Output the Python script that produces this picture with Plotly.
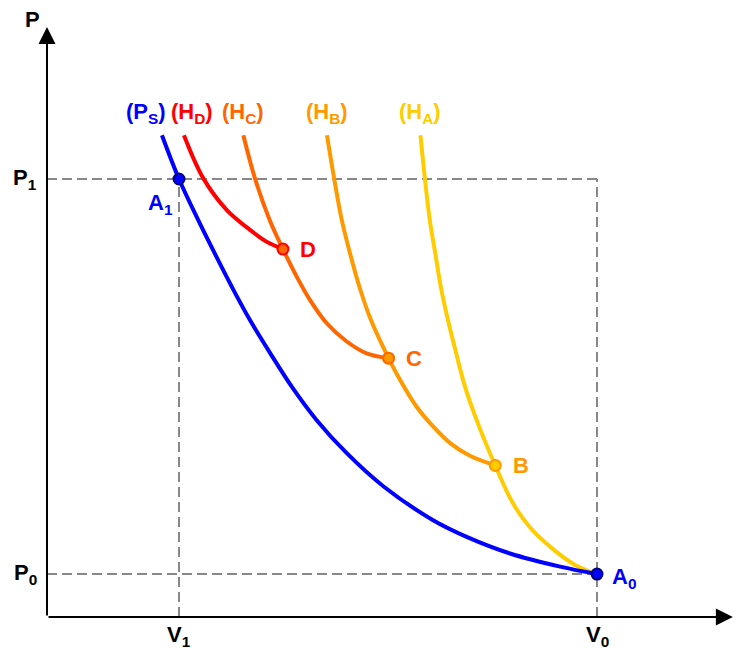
import plotly.graph_objects as go

# reference states (V, P)
V0, V1 = 10.0, 2.4
P0, P1 = 0.98, 10.0

# isentrope (Ps)
v_ps = [2.09, 2.40, 2.75, 3.05, 3.36, 3.69, 4.06, 4.45, 4.90, 5.45, 6.12, 7.02, 7.63, 8.42, 9.33, 10.0]
p_ps = [11.00, 10.0, 9.06, 8.30, 7.54, 6.78, 6.02, 5.26, 4.50, 3.74, 2.98, 2.21, 1.83, 1.45, 1.15, 0.98]

# Hugoniot curves, each listed from the top down to its pole
v_ha = [6.79, 6.87, 6.96, 7.06, 7.16, 7.29, 7.44, 7.60, 7.81, 8.15, 8.47, 8.78, 9.20, 9.60, 10.0]
p_ha = [11.00, 10.02, 9.06, 8.30, 7.54, 6.78, 6.02, 5.26, 4.50, 3.46, 2.60, 2.05, 1.55, 1.19, 0.98]

v_hb = [5.09, 5.22, 5.36, 5.51, 5.68, 5.89, 6.21, 6.42, 6.72, 7.02, 7.33, 7.69, 8.15]
p_hb = [11.00, 10.02, 9.06, 8.30, 7.54, 6.78, 5.91, 5.41, 4.80, 4.35, 3.97, 3.68, 3.46]

v_hc = [3.57, 3.78, 4.05, 4.29, 4.54, 4.78, 5.09, 5.45, 5.81, 6.21]
p_hc = [11.00, 10.02, 9.06, 8.40, 7.77, 7.24, 6.70, 6.29, 6.02, 5.91]

v_hd = [2.49, 2.84, 3.27, 3.69, 3.99, 4.29]
p_hd = [11.00, 10.02, 9.29, 8.84, 8.57, 8.40]

# marked states
pt_names = ["A<sub>1</sub>", "A<sub>0</sub>", "B", "C", "D"]
pt_v = [2.40, 10.0, 8.15, 6.21, 4.29]
pt_p = [10.0, 0.98, 3.46, 5.91, 8.40]
pt_fill = ["#0000FF", "#0000FF", "#FFCC00", "#FF9900", "#FF6600"]
pt_edge = ["#00007A", "#00007A", "#FF9900", "#FF6600", "#FF0000"]
pt_shift = [(-19, -25), (27, -4), (26, 0), (25, 0), (25, 0)]

FONT = "Arial, Liberation Sans, sans-serif"
FS = 22

curves = [
    ("(H<sub>A</sub>)", v_ha, p_ha, "#FFCC00", 0),
    ("(H<sub>B</sub>)", v_hb, p_hb, "#FF9900", 0),
    ("(H<sub>C</sub>)", v_hc, p_hc, "#FF6600", 0),
    ("(H<sub>D</sub>)", v_hd, p_hd, "#FF0000", 8),
    ("(P<sub>S</sub>)", v_ps, p_ps, "#0000FF", -16),
]

fig = go.Figure()
annotations = []

for name, vs, ps, color, dx in curves:
    fig.add_trace(go.Scatter(x=vs, y=ps, mode="lines",
                             line=dict(color=color, width=4, shape="spline"),
                             hoverinfo="skip"))
    annotations.append(dict(x=vs[0], y=ps[0], text="<b>" + name + "</b>",
                            showarrow=False, xshift=dx, yshift=22,
                            font=dict(family=FONT, size=FS, color=color)))

fig.add_trace(go.Scatter(x=pt_v, y=pt_p, mode="markers",
                         marker=dict(size=11, color=pt_fill,
                                     line=dict(color=pt_edge, width=2)),
                         hoverinfo="skip"))

label_colors = ["#0000FF", "#0000FF", "#FF9900", "#FF6600", "#FF0000"]
for name, v, p, c, (dx, dy) in zip(pt_names, pt_v, pt_p, label_colors, pt_shift):
    annotations.append(dict(x=v, y=p, text="<b>" + name + "</b>", showarrow=False,
                            xshift=dx, yshift=dy,
                            font=dict(family=FONT, size=FS, color=c)))

# axes with arrows
x_end, y_end = 12.47, 13.47
for tip in [(x_end, 0), (0, y_end)]:
    annotations.append(dict(x=tip[0], y=tip[1], ax=0, ay=0, axref="x", ayref="y",
                            xref="x", yref="y", text="", showarrow=True,
                            arrowhead=2, arrowsize=1.7, arrowwidth=2,
                            arrowcolor="black"))

black = dict(family=FONT, size=FS, color="black")
annotations += [
    dict(x=0, y=y_end, text="<b>P</b>", showarrow=False, xshift=-15, yshift=8, font=black),
    dict(x=0, y=P1, text="<b>P<sub>1</sub></b>", showarrow=False, xshift=-22, yshift=0, font=black),
    dict(x=0, y=P0, text="<b>P<sub>0</sub></b>", showarrow=False, xshift=-22, yshift=0, font=black),
    dict(x=V1, y=0, text="<b>V<sub>1</sub></b>", showarrow=False, yshift=-19, font=black),
    dict(x=V0, y=0, text="<b>V<sub>0</sub></b>", showarrow=False, yshift=-19, font=black),
    dict(x=x_end, y=0, text="<b>V</b>", showarrow=False, xanchor="left",
         xshift=4, yshift=-21, font=black),
]

dash = dict(color="#888888", width=2, dash="10px,5px")
shapes = [
    dict(type="line", x0=0, x1=V0, y0=P1, y1=P1, line=dash, layer="below"),
    dict(type="line", x0=0, x1=V0, y0=P0, y1=P0, line=dash, layer="below"),
    dict(type="line", x0=V0, x1=V0, y0=0, y1=P1, line=dash, layer="below"),
    dict(type="line", x0=V1, x1=V1, y0=0, y1=P1, line=dash, layer="below"),
]

# the page body adds an 8px margin, so the figure is 8px smaller than the window
fig.update_layout(
    width=736, height=640,
    margin=dict(l=0, r=0, t=0, b=0),
    paper_bgcolor="white", plot_bgcolor="white",
    showlegend=False,
    xaxis=dict(range=[-39 / 55, 697 / 55], visible=False, fixedrange=True),
    yaxis=dict(range=[-31 / 43.8, 609 / 43.8], visible=False, fixedrange=True),
    annotations=annotations,
    shapes=shapes,
)

fig.write_html("out.html")
